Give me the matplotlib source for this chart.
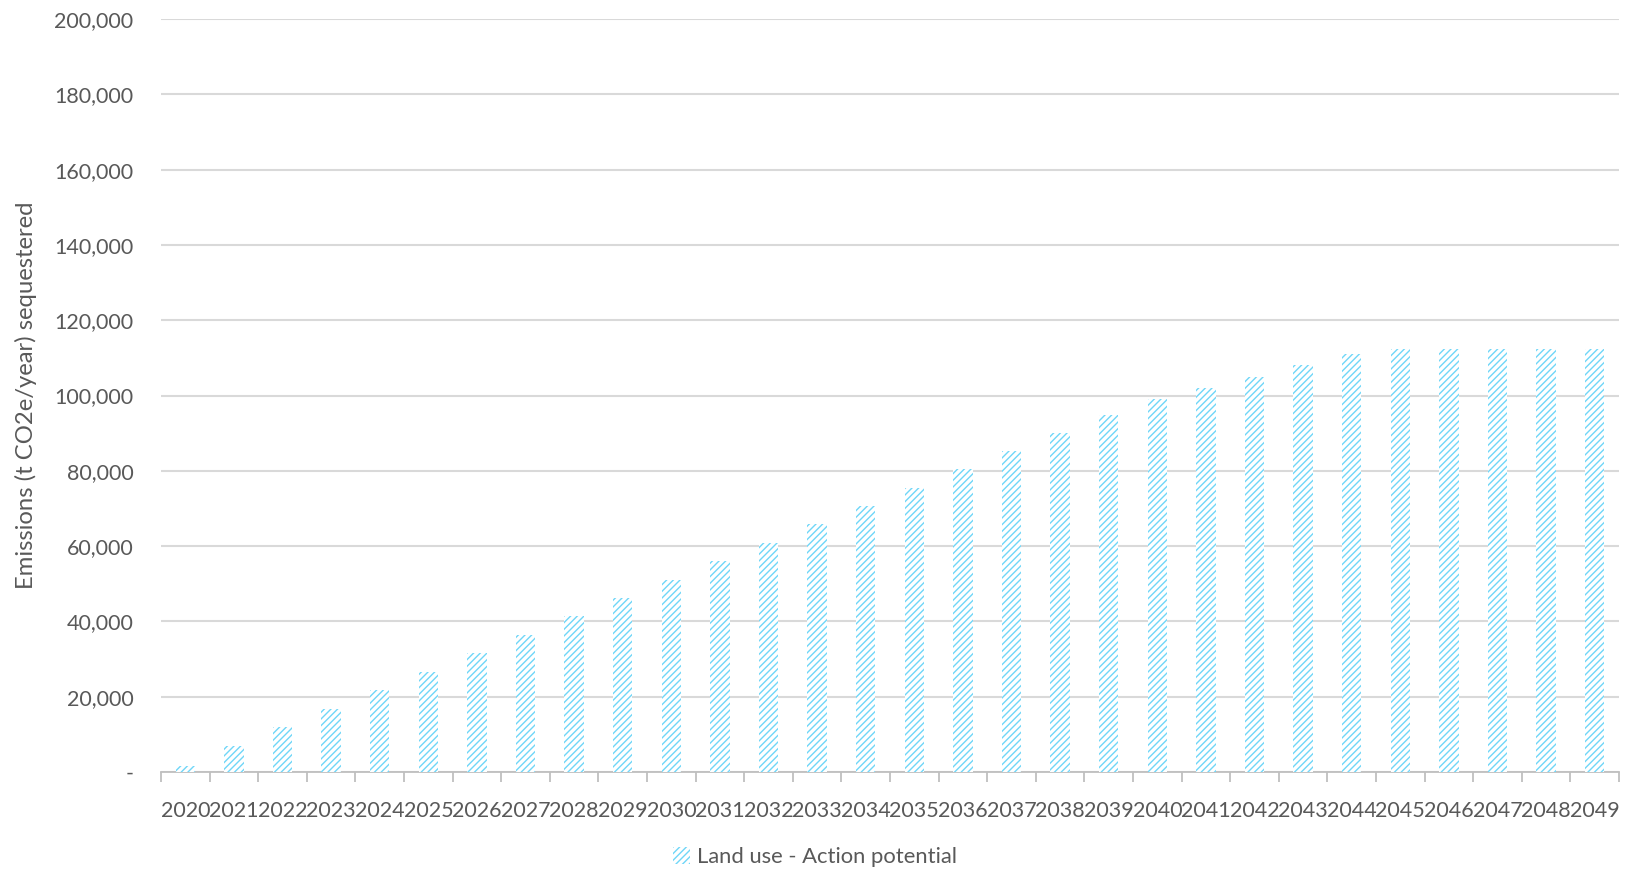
import matplotlib.pyplot as plt
from matplotlib.ticker import FuncFormatter, FixedLocator
from matplotlib.patches import Patch

years = list(range(2020, 2050))
sequestered = [1700, 6900, 11900, 16800, 21800, 26700, 31600, 36500, 41400, 46300,
               51000, 56000, 60900, 65800, 70600, 75500, 80400, 85300, 90000, 94800,
               99000, 102000, 105000, 108000, 111000, 112500, 112500, 112500, 112500, 112500]
series_name = 'Land use - Action potential'
y_label = 'Emissions (t CO2e/year) sequestered'

hatch_col = '#6fd6f8'
text_col = '#595959'

plt.rcParams['font.family'] = ['Lato', 'DejaVu Sans']
plt.rcParams['hatch.color'] = hatch_col
plt.rcParams['hatch.linewidth'] = 1.0

fig = plt.figure(figsize=(16.3, 8.69), dpi=100)
ax = fig.add_axes([0.0988, 0.1116, 0.8945, 0.8664])

x = list(range(len(years)))
ax.bar(x, sequestered, width=0.4, color='white', edgecolor=hatch_col,
       linewidth=0, hatch='/////', zorder=3)

ax.set_xlim(-0.5, len(years) - 0.5)
ax.set_ylim(0, 200000)
ax.set_yticks(range(0, 200001, 20000))
ax.yaxis.set_major_formatter(FuncFormatter(lambda v, p: '-' if v == 0 else f'{int(v):,}'))
ax.grid(axis='y', color='#d9d9d9', linewidth=1.5, zorder=0)

# year labels centred on bars, tick marks between categories
ax.set_xticks(x)
ax.set_xticklabels([str(y) for y in years])
ax.xaxis.set_minor_locator(FixedLocator([i - 0.5 for i in range(len(years) + 1)]))
ax.tick_params(axis='x', which='major', length=0, pad=21, labelsize=15.5, labelcolor=text_col)
ax.tick_params(axis='x', which='minor', length=7, width=1.3, color='#bfbfbf')
ax.tick_params(axis='y', length=0, pad=20, labelsize=15.5, labelcolor=text_col)

for s in ['top', 'right', 'left']:
    ax.spines[s].set_visible(False)
ax.spines['bottom'].set_color('#bfbfbf')
ax.spines['bottom'].set_linewidth(1.3)

fig.text(0.016, 0.545, y_label, rotation=90, ha='center', va='center',
         fontsize=17.2, color=text_col)

handle = Patch(facecolor='white', edgecolor=hatch_col, linewidth=0, hatch='/////')
fig.legend([handle], [series_name], loc='center', bbox_to_anchor=(0.5, 0.014),
           frameon=False, fontsize=15.8, labelcolor=text_col,
           handlelength=0.8, handleheight=0.8, handletextpad=0.3)

fig.savefig('out.png', dpi=100)
